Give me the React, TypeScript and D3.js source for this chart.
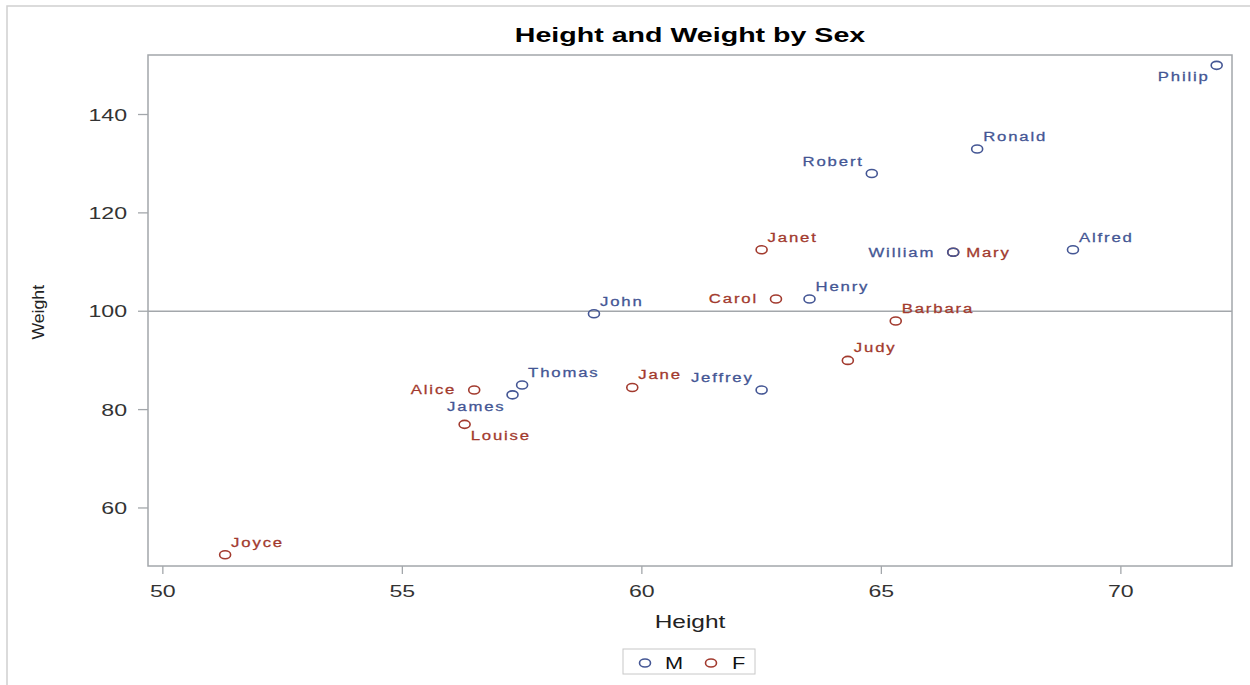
import React from "react";
import * as d3 from "d3";

const names = ["Alfred","Alice","Barbara","Carol","Henry","James","Jane","Janet","Jeffrey","John","Joyce","Judy","Louise","Mary","Philip","Robert","Ronald","Thomas","William"];
const sexes = ["M","F","F","F","M","M","F","F","M","M","F","F","F","F","M","M","M","M","M"];
const heights = [69.0,56.5,65.3,62.8,63.5,57.3,59.8,62.5,62.5,59.0,51.3,64.3,56.3,66.5,72.0,64.8,67.0,57.5,66.5];
const weights = [112.5,84.0,98.0,102.5,102.5,83.0,84.5,112.5,84.0,99.5,50.5,90.0,77.0,112.0,150.0,128.0,133.0,85.0,112.0];
// label placement around each marker
const labelPlace = ["tr","l","tr","l","tr","bl","tr","tr","tl","tr","tr","tr","br","r","bl","tl","tr","tr","l"];

const xTicks = [50,55,60,65,70];
const yTicks = [60,80,100,120,140];
const refY = 100;
const sexGroups = ["M","F"];

const W = 1250, H = 685;
const plot = { left: 148, right: 1232, top: 55, bottom: 566 };
const colors: Record<string,string> = { M: "#445694", F: "#A23A2E" };
const SX = 1.36;
const axisColor = "#A3A7AB";

export default function App() {
  const x = d3.scaleLinear().domain([49.69, 72.32]).range([plot.left, plot.right]);
  const y = d3.scaleLinear().domain([48.2, 152.1]).range([plot.bottom, plot.top]);
  const font = "'Liberation Sans', Arial, sans-serif";

  const points = names.map((n, i) => ({ name: n, sex: sexes[i], h: heights[i], w: weights[i], place: labelPlace[i] }));

  const labelFor = (p: any) => {
    const px = x(p.h), py = y(p.w);
    let lx = px, ly = py, anchor = "start";
    switch (p.place) {
      case "tr": lx = px + 6; ly = py - 8; anchor = "start"; break;
      case "tl": lx = px - 8; ly = py - 8; anchor = "end"; break;
      case "bl": lx = px - 7; ly = py + 16; anchor = "end"; break;
      case "br": lx = px + 6; ly = py + 16; anchor = "start"; break;
      case "l": lx = px - 18; ly = py + 4.5; anchor = "end"; break;
      case "r": lx = px + 13; ly = py + 4.5; anchor = "start"; break;
    }
    return { lx, ly, anchor };
  };

  return (
    <svg width={W} height={H} style={{ position: "absolute", left: 0, top: 0, background: "#fff" }} fontFamily={font}>
      <rect x={7} y={6} width={W + 10} height={H + 10} fill="#fff" stroke="#D0D0D0" strokeWidth={1.5} />
      {/* Title */}
      <text transform={`translate(${(plot.left + plot.right) / 2},42) scale(1.43,1)`} textAnchor="middle" fontSize={20} fontWeight="bold" fill="#000">
        Height and Weight by Sex
      </text>
      {/* reference line */}
      <line x1={plot.left} x2={plot.right} y1={y(refY)} y2={y(refY)} stroke={axisColor} strokeWidth={1.3} />
      {/* frame */}
      <rect x={plot.left} y={plot.top} width={plot.right - plot.left} height={plot.bottom - plot.top} fill="none" stroke={axisColor} strokeWidth={1.5} />
      {/* x ticks */}
      {xTicks.map(t => (
        <g key={"x" + t}>
          <line x1={x(t)} x2={x(t)} y1={plot.bottom} y2={plot.bottom + 8} stroke={axisColor} strokeWidth={1.3} />
          <text transform={`translate(${x(t)},597) scale(${SX},1)`} textAnchor="middle" fontSize={17} fill="#333">{t}</text>
        </g>
      ))}
      {/* y ticks */}
      {yTicks.map(t => (
        <g key={"y" + t}>
          <line x1={plot.left - 10} x2={plot.left} y1={y(t)} y2={y(t)} stroke={axisColor} strokeWidth={1.3} />
          <text transform={`translate(127,${y(t) + 6}) scale(${SX},1)`} textAnchor="end" fontSize={17} fill="#333">{t}</text>
        </g>
      ))}
      {/* axis labels */}
      <text transform={`translate(${(plot.left + plot.right) / 2},628) scale(${SX},1)`} textAnchor="middle" fontSize={18} fill="#222">Height</text>
      <text transform={`translate(44,${y(100) + 1}) rotate(-90) scale(1.04,1)`} textAnchor="middle" fontSize={17} fill="#222">Weight</text>
      {/* points */}
      {points.map(p => (
        <ellipse key={"p" + p.name} cx={x(p.h)} cy={y(p.w)} rx={5.5} ry={4} fill="none" stroke={colors[p.sex]} strokeWidth={1.6} />
      ))}
      {/* labels */}
      {points.map(p => {
        const { lx, ly, anchor } = labelFor(p);
        return (
          <text key={"l" + p.name} transform={`translate(${lx},${ly}) scale(${SX},1)`} textAnchor={anchor as any} fontSize={12.3} letterSpacing={1.35} stroke={colors[p.sex]} strokeWidth={0.25} fill={colors[p.sex]}>
            {p.name}
          </text>
        );
      })}
      {/* legend */}
      <rect x={623} y={649} width={132} height={25} fill="#fff" stroke="#C8C8C8" strokeWidth={1} />
      {sexGroups.map((s, i) => (
        <g key={"lg" + s}>
          <ellipse cx={645 + i * 66} cy={663} rx={5.5} ry={4} fill="none" stroke={colors[s]} strokeWidth={1.6} />
          <text transform={`translate(${665 + i * 67},669) scale(${SX},1)`} fontSize={16} fill="#111">{s}</text>
        </g>
      ))}
    </svg>
  );
}
